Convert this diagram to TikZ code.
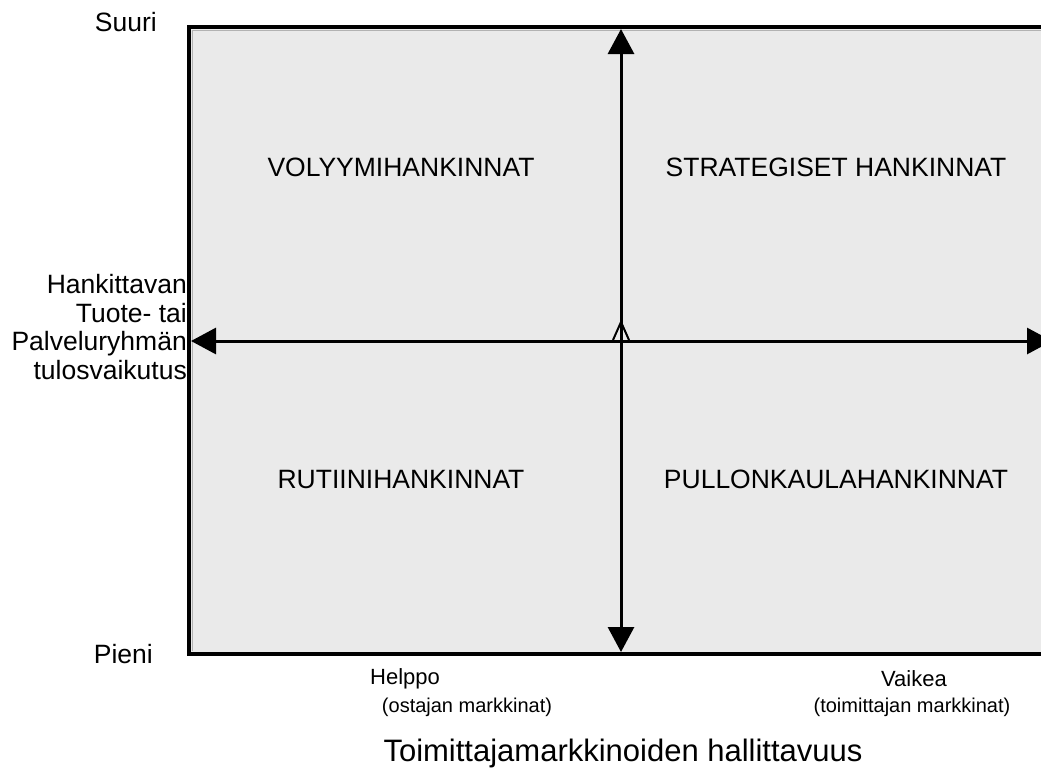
\documentclass[tikz,border=0pt]{standalone}
\usepackage{fontspec}
\setmainfont{Liberation Sans}
\usetikzlibrary{arrows.meta}
\definecolor{quadfill}{HTML}{EAEAEA}
\tikzset{
  biglbl/.style={inner sep=0pt, font=\fontsize{26.5}{28.4}\selectfont, text=black},
  lbl/.style={inner sep=0pt, font=\fontsize{22}{26}\selectfont, text=black},
  sublbl/.style={inner sep=0pt, font=\fontsize{20}{23}\selectfont, text=black},
  titlelbl/.style={inner sep=0pt, font=\fontsize{31}{34}\selectfont, text=black},
  axisline/.style={line width=4pt, black},
  dblarrow/.style={line width=3pt, black, {Triangle[length=25pt,width=26pt]}-{Triangle[length=25pt,width=26pt]}},
}
\begin{document}
\begin{tikzpicture}[x=1pt,y=-1pt]
\useasboundingbox (0,0) rectangle (1041,774);
% background field
\fill[quadfill] (189,27) rectangle (1060,654);
\draw[gray!60, line width=1pt] (192,30) -- (1060,30);
\draw[gray!60, line width=1pt] (192,30) -- (192,651);
% frame corners
\coordinate (TR) at (1060,27);
\coordinate (TL) at (189,27);
\coordinate (BL) at (189,654);
\coordinate (BR) at (1060,654);
\draw[axisline] (TR) -- (TL) -- (BL) -- (BR);
% axes
\coordinate (vtop) at (621,29);
\coordinate (vbot) at (621,652);
\coordinate (hleft) at (191,341);
\coordinate (hright) at (1052,341);
\draw[dblarrow] (vbot) -- (vtop);
\draw[dblarrow] (hleft) -- (hright);
% small open triangle at centre
\coordinate (ctip) at (621,322);
\coordinate (cbl) at (613,340);
\coordinate (cbr) at (629,340);
\draw[line width=2pt, black, line join=miter] (cbl) -- (ctip) -- (cbr);
% quadrant labels
\node[biglbl, anchor=base] (vol) at (401,176.5) {VOLYYMIHANKINNAT};
\node[biglbl, anchor=base] (str) at (836,176.5) {STRATEGISET HANKINNAT};
\node[biglbl, anchor=base] (rut) at (401,488.5) {RUTIINIHANKINNAT};
\node[biglbl, anchor=base] (pul) at (836,488.5) {PULLONKAULAHANKINNAT};
% y-axis labels
\node[biglbl, anchor=base east] (suuri) at (157,31) {Suuri};
\node[biglbl, anchor=base east] (pieni) at (153,663) {Pieni};
\node[biglbl, anchor=east, align=right] (yax) at (187,327) {Hankittavan\\Tuote- tai\\Palveluryhmän\\tulosvaikutus};
% x-axis labels
\node[lbl] (helppo) at (405,679) {Helppo};
\node[sublbl] (ostajan) at (467,707) {(ostajan markkinat)};
\node[lbl] (vaikea) at (914,679) {Vaikea};
\node[sublbl] (toimittajan) at (912,707) {(toimittajan markkinat)};
\node[titlelbl] (xax) at (623,753) {Toimittajamarkkinoiden hallittavuus};
\end{tikzpicture}
\end{document}
